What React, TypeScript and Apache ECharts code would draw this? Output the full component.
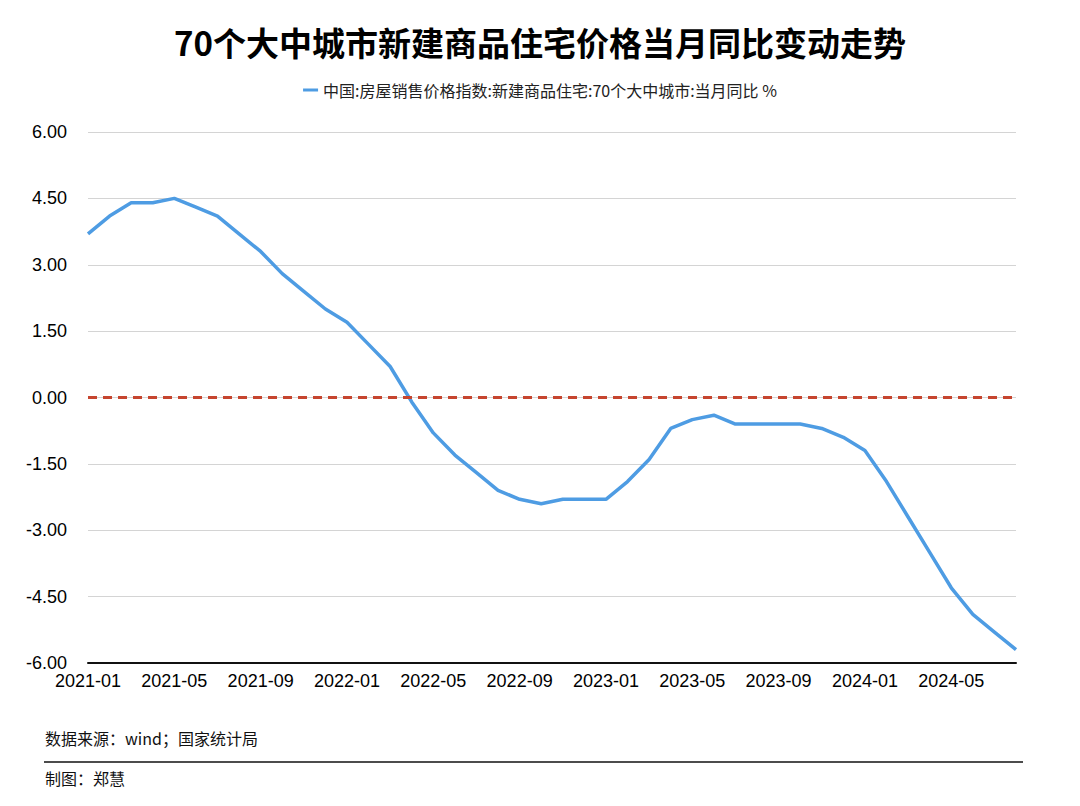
import React, { useEffect, useRef } from "react";
import * as echarts from "echarts";

const categories: string[] = [
  "2021-01","2021-02","2021-03","2021-04","2021-05","2021-06","2021-07","2021-08","2021-09","2021-10","2021-11","2021-12",
  "2022-01","2022-02","2022-03","2022-04","2022-05","2022-06","2022-07","2022-08","2022-09","2022-10","2022-11","2022-12",
  "2023-01","2023-02","2023-03","2023-04","2023-05","2023-06","2023-07","2023-08","2023-09","2023-10","2023-11","2023-12",
  "2024-01","2024-02","2024-03","2024-04","2024-05","2024-06","2024-07","2024-08",
];

const yoyValues: number[] = [
  3.7, 4.1, 4.4, 4.4, 4.5, 4.3, 4.1, 3.7, 3.3, 2.8, 2.4, 2.0,
  1.7, 1.2, 0.7, -0.1, -0.8, -1.3, -1.7, -2.1, -2.3, -2.4, -2.3, -2.3,
  -2.3, -1.9, -1.4, -0.7, -0.5, -0.4, -0.6, -0.6, -0.6, -0.6, -0.7, -0.9,
  -1.2, -1.9, -2.7, -3.5, -4.3, -4.9, -5.3, -5.7,
];

const seriesName = "中国:房屋销售价格指数:新建商品住宅:70个大中城市:当月同比 %";
const titleText = "70个大中城市新建商品住宅价格当月同比变动走势";
const sourceText = "数据来源：wind；国家统计局";
const authorText = "制图：郑慧";

const FONT = "'Noto Sans CJK SC', 'Noto Sans', sans-serif";
const NUM_FONT = "'Liberation Sans', Arial, sans-serif";

export default function App() {
  const ref = useRef<HTMLDivElement>(null);

  useEffect(() => {
    document.body.style.margin = "0";
    if (!ref.current) return;
    const chart = echarts.init(ref.current, undefined, { renderer: "svg" });
    chart.setOption({
      animation: false,
      backgroundColor: "#ffffff",
      textStyle: { fontFamily: FONT },
      title: {
        text: titleText,
        left: "center",
        top: 20,
        textStyle: { fontSize: 33, fontWeight: "bold", color: "#000", fontFamily: FONT },
      },
      legend: {
        top: 77,
        left: "center",
        icon: "rect",
        itemWidth: 15,
        itemHeight: 3,
        itemGap: 10,
        textStyle: { fontSize: 16, color: "#222", fontFamily: FONT },
        data: [seriesName],
      },
      grid: { left: 88, right: 64, top: 132, bottom: 143, containLabel: false },
      xAxis: {
        type: "category",
        data: categories,
        boundaryGap: false,
        axisLine: { onZero: false, lineStyle: { color: "#111", width: 2 } },
        axisTick: { show: false },
        axisLabel: { interval: 3, color: "#000", fontSize: 18, margin: 9, fontFamily: NUM_FONT },
        splitLine: { show: false },
      },
      yAxis: {
        type: "value",
        min: -6,
        max: 6,
        interval: 1.5,
        axisLine: { show: false },
        axisTick: { show: false },
        axisLabel: {
          color: "#000",
          fontSize: 18,
          margin: 21,
          fontFamily: NUM_FONT,
          formatter: (v: number) => v.toFixed(2),
        },
        splitLine: { lineStyle: { color: "#d4d4d4", width: 1 } },
      },
      series: [
        {
          name: seriesName,
          type: "line",
          data: yoyValues,
          symbol: "none",
          lineStyle: { color: "#4e9ce3", width: 3.5 },
          itemStyle: { color: "#4e9ce3" },
          markLine: {
            silent: true,
            symbol: "none",
            label: { show: false },
            lineStyle: { color: "#c6452f", width: 3, type: [9, 6] },
            data: [{ yAxis: 0 }],
          },
        },
      ],
      graphic: [
        {
          type: "text",
          left: 45,
          top: 730,
          style: { text: sourceText, fontSize: 16, fill: "#111", fontFamily: FONT },
        },
        {
          type: "line",
          shape: { x1: 44, y1: 762, x2: 1023, y2: 762 },
          style: { stroke: "#111", lineWidth: 1.5 },
        },
        {
          type: "text",
          left: 45,
          top: 770,
          style: { text: authorText, fontSize: 16, fill: "#111", fontFamily: FONT },
        },
      ],
    });
    return () => chart.dispose();
  }, []);

  return <div ref={ref} style={{ width: 1080, height: 806 }} />;
}
